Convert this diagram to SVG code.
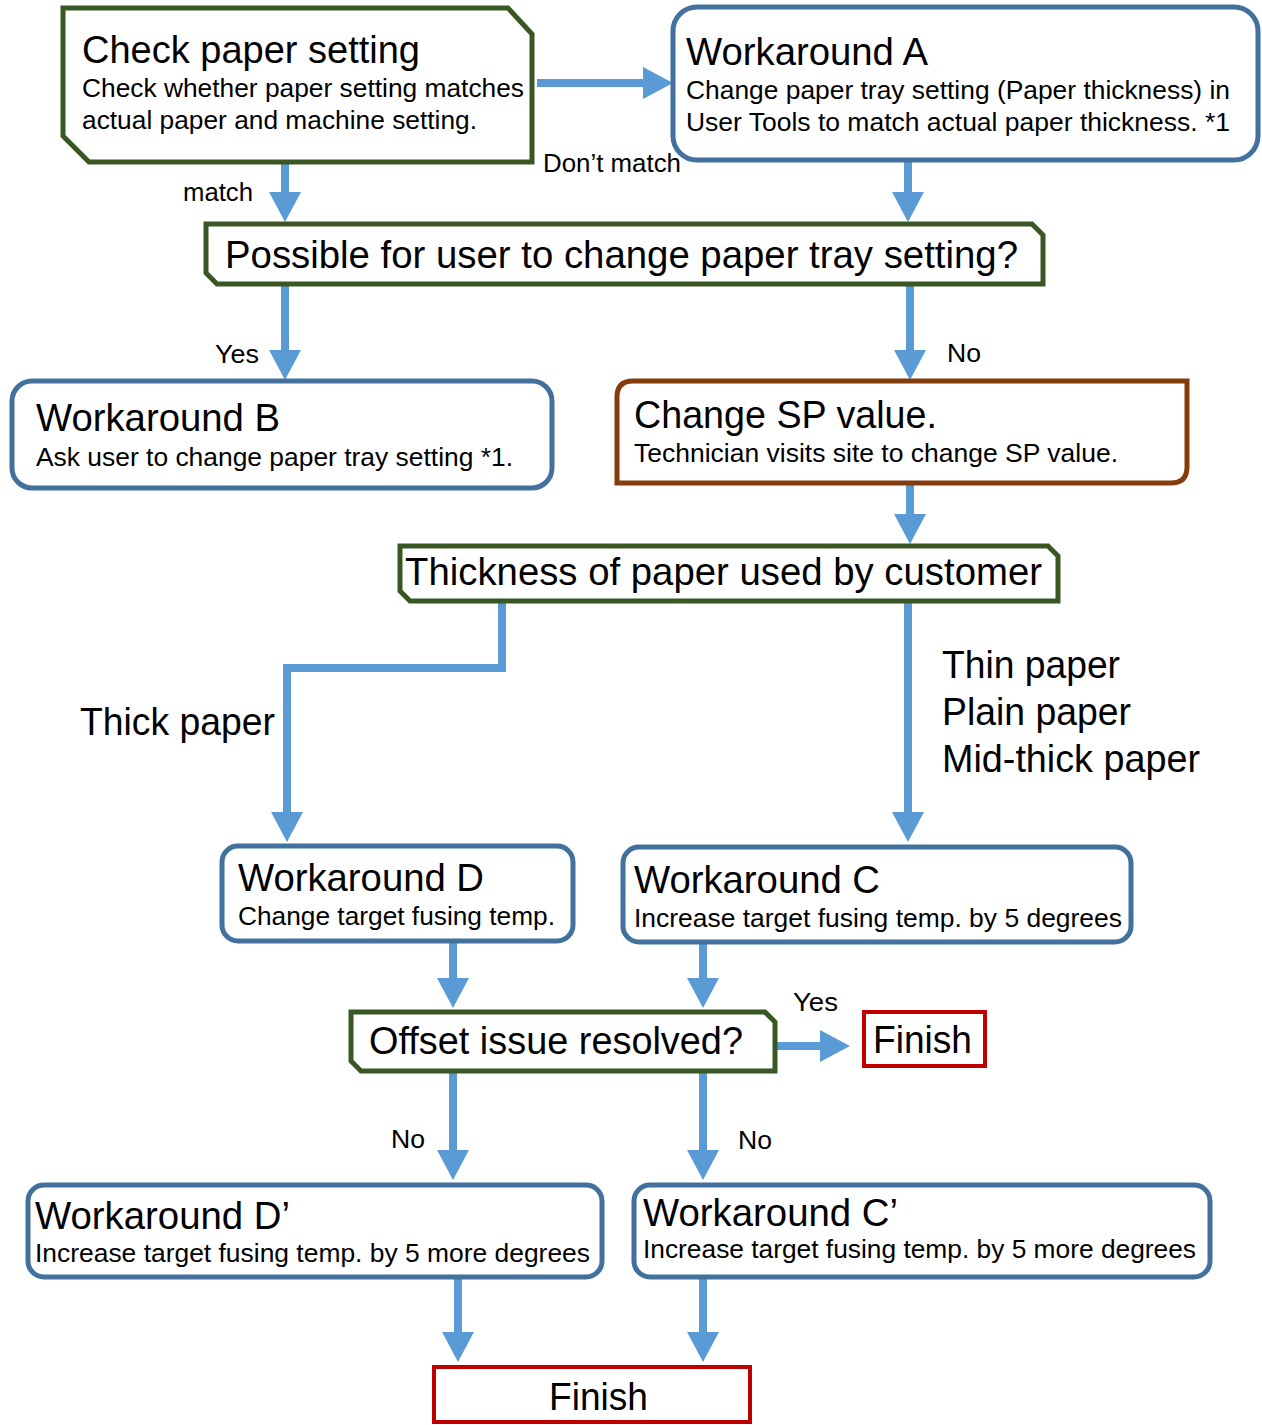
<svg xmlns="http://www.w3.org/2000/svg" width="1262" height="1425" viewBox="0 0 1262 1425">
<style>
text{font-family:"Liberation Sans",Arial,sans-serif;fill:#000}
.t{font-size:39px}
.s{font-size:26px}
.l{font-size:25px}
.g{fill:#fff;stroke:#385723;stroke-width:5}
.b{fill:#fff;stroke:#41719C;stroke-width:5}
.r{fill:#fff;stroke:#C00000;stroke-width:4}
.br{fill:#fff;stroke:#843C0C;stroke-width:5}
.c{fill:none;stroke:#5B9BD5;stroke-width:8}
</style>
<defs>
<marker id="ah" markerUnits="userSpaceOnUse" markerWidth="30" markerHeight="32" viewBox="0 0 30 32" refX="0" refY="16" orient="auto">
<path d="M0,0 L30,16 L0,32 Z" fill="#5B9BD5"/>
</marker>
</defs>
<rect width="1262" height="1425" fill="#fff"/>
<g id="connectors">
<path class="c" d="M537,83 L643,83" marker-end="url(#ah)"/>
<path class="c" d="M285,162 L285,192" marker-end="url(#ah)"/>
<path class="c" d="M908,160 L908,192" marker-end="url(#ah)"/>
<path class="c" d="M285,284 L285,350" marker-end="url(#ah)"/>
<path class="c" d="M910,284 L910,350" marker-end="url(#ah)"/>
<path class="c" d="M910,483 L910,514" marker-end="url(#ah)"/>
<path class="c" d="M502,601 L502,668 L287,668 L287,812" marker-end="url(#ah)"/>
<path class="c" d="M908,601 L908,812" marker-end="url(#ah)"/>
<path class="c" d="M453,941 L453,978" marker-end="url(#ah)"/>
<path class="c" d="M703,942 L703,978" marker-end="url(#ah)"/>
<path class="c" d="M777,1046 L820,1046" marker-end="url(#ah)"/>
<path class="c" d="M453,1071 L453,1150" marker-end="url(#ah)"/>
<path class="c" d="M703,1071 L703,1150" marker-end="url(#ah)"/>
<path class="c" d="M458,1277 L458,1332" marker-end="url(#ah)"/>
<path class="c" d="M703,1277 L703,1332" marker-end="url(#ah)"/>
<text class="l" x="543" y="172" textLength="138" lengthAdjust="spacingAndGlyphs">Don’t match</text>
<text class="l" x="183" y="201" textLength="70" lengthAdjust="spacingAndGlyphs">match</text>
<text class="l" x="215" y="363" textLength="44" lengthAdjust="spacingAndGlyphs">Yes</text>
<text class="l" x="947" y="362" textLength="34" lengthAdjust="spacingAndGlyphs">No</text>
<text class="t" x="80" y="735" textLength="195" lengthAdjust="spacingAndGlyphs">Thick paper</text>
<text class="t" x="942" y="678" textLength="178" lengthAdjust="spacingAndGlyphs">Thin paper</text>
<text class="t" x="942" y="725" textLength="189" lengthAdjust="spacingAndGlyphs">Plain paper</text>
<text class="t" x="942" y="772" textLength="258" lengthAdjust="spacingAndGlyphs">Mid-thick paper</text>
<text class="l" x="793" y="1011" textLength="45" lengthAdjust="spacingAndGlyphs">Yes</text>
<text class="l" x="391" y="1148" textLength="34" lengthAdjust="spacingAndGlyphs">No</text>
<text class="l" x="738" y="1149" textLength="34" lengthAdjust="spacingAndGlyphs">No</text>
</g>
<g id="check">
<polygon class="g" points="63,8 508,8 532,34 532,162 89,162 63,136"/>
<text class="t" x="82" y="63" textLength="338" lengthAdjust="spacingAndGlyphs">Check paper setting</text>
<text class="s" x="82" y="97" textLength="442" lengthAdjust="spacingAndGlyphs">Check whether paper setting matches</text>
<text class="s" x="82" y="129" textLength="395" lengthAdjust="spacingAndGlyphs">actual paper and machine setting.</text>
</g>
<g id="workaroundA">
<rect class="b" x="673" y="7" width="585" height="153" rx="24"/>
<text class="t" x="686" y="65" textLength="242" lengthAdjust="spacingAndGlyphs">Workaround A</text>
<text class="s" x="686" y="99" textLength="544" lengthAdjust="spacingAndGlyphs">Change paper tray setting (Paper thickness) in</text>
<text class="s" x="686" y="131" textLength="544" lengthAdjust="spacingAndGlyphs">User Tools to match actual paper thickness. *1</text>
</g>
<g id="possible">
<polygon class="g" points="206,224 1032,224 1043,235 1043,284 217,284 206,273"/>
<text class="t" x="225" y="268" textLength="793" lengthAdjust="spacingAndGlyphs">Possible for user to change paper tray setting?</text>
</g>
<g id="workaroundB">
<rect class="b" x="12" y="381" width="540" height="107" rx="20"/>
<text class="t" x="36" y="431" textLength="244" lengthAdjust="spacingAndGlyphs">Workaround B</text>
<text class="s" x="36" y="466" textLength="477" lengthAdjust="spacingAndGlyphs">Ask user to change paper tray setting *1.</text>
</g>
<g id="changeSP">
<path class="br" d="M617,483 L617,397 Q617,381 633,381 L1187,381 L1187,467 Q1187,483 1171,483 Z"/>
<text class="t" x="634" y="428" textLength="303" lengthAdjust="spacingAndGlyphs">Change SP value.</text>
<text class="s" x="634" y="462" textLength="484" lengthAdjust="spacingAndGlyphs">Technician visits site to change SP value.</text>
</g>
<g id="thickness">
<polygon class="g" points="400,546 1048,546 1058,556 1058,601 410,601 400,591"/>
<text class="t" x="405" y="585" textLength="637" lengthAdjust="spacingAndGlyphs">Thickness of paper used by customer</text>
</g>
<g id="workaroundD">
<rect class="b" x="222" y="846" width="351" height="95" rx="16"/>
<text class="t" x="238" y="891" textLength="246" lengthAdjust="spacingAndGlyphs">Workaround D</text>
<text class="s" x="238" y="925" textLength="317" lengthAdjust="spacingAndGlyphs">Change target fusing temp.</text>
</g>
<g id="workaroundC">
<rect class="b" x="623" y="847" width="508" height="95" rx="16"/>
<text class="t" x="634" y="893" textLength="246" lengthAdjust="spacingAndGlyphs">Workaround C</text>
<text class="s" x="634" y="927" textLength="488" lengthAdjust="spacingAndGlyphs">Increase target fusing temp. by 5 degrees</text>
</g>
<g id="offset">
<polygon class="g" points="351,1012 765,1012 775,1022 775,1071 361,1071 351,1061"/>
<text class="t" x="369" y="1054" textLength="374" lengthAdjust="spacingAndGlyphs">Offset issue resolved?</text>
</g>
<g id="finish1">
<rect class="r" x="864" y="1012" width="121" height="54"/>
<text class="t" x="873" y="1053" textLength="99" lengthAdjust="spacingAndGlyphs">Finish</text>
</g>
<g id="workaroundD2">
<rect class="b" x="28" y="1185" width="574" height="92" rx="16"/>
<text class="t" x="35" y="1229" textLength="255" lengthAdjust="spacingAndGlyphs">Workaround D’</text>
<text class="s" x="35" y="1262" textLength="555" lengthAdjust="spacingAndGlyphs">Increase target fusing temp. by 5 more degrees</text>
</g>
<g id="workaroundC2">
<rect class="b" x="634" y="1185" width="576" height="92" rx="16"/>
<text class="t" x="643" y="1226" textLength="255" lengthAdjust="spacingAndGlyphs">Workaround C’</text>
<text class="s" x="643" y="1258" textLength="553" lengthAdjust="spacingAndGlyphs">Increase target fusing temp. by 5 more degrees</text>
</g>
<g id="finish2">
<rect class="r" x="434" y="1367" width="316" height="55"/>
<text class="t" x="549" y="1410" textLength="99" lengthAdjust="spacingAndGlyphs">Finish</text>
</g>
</svg>
